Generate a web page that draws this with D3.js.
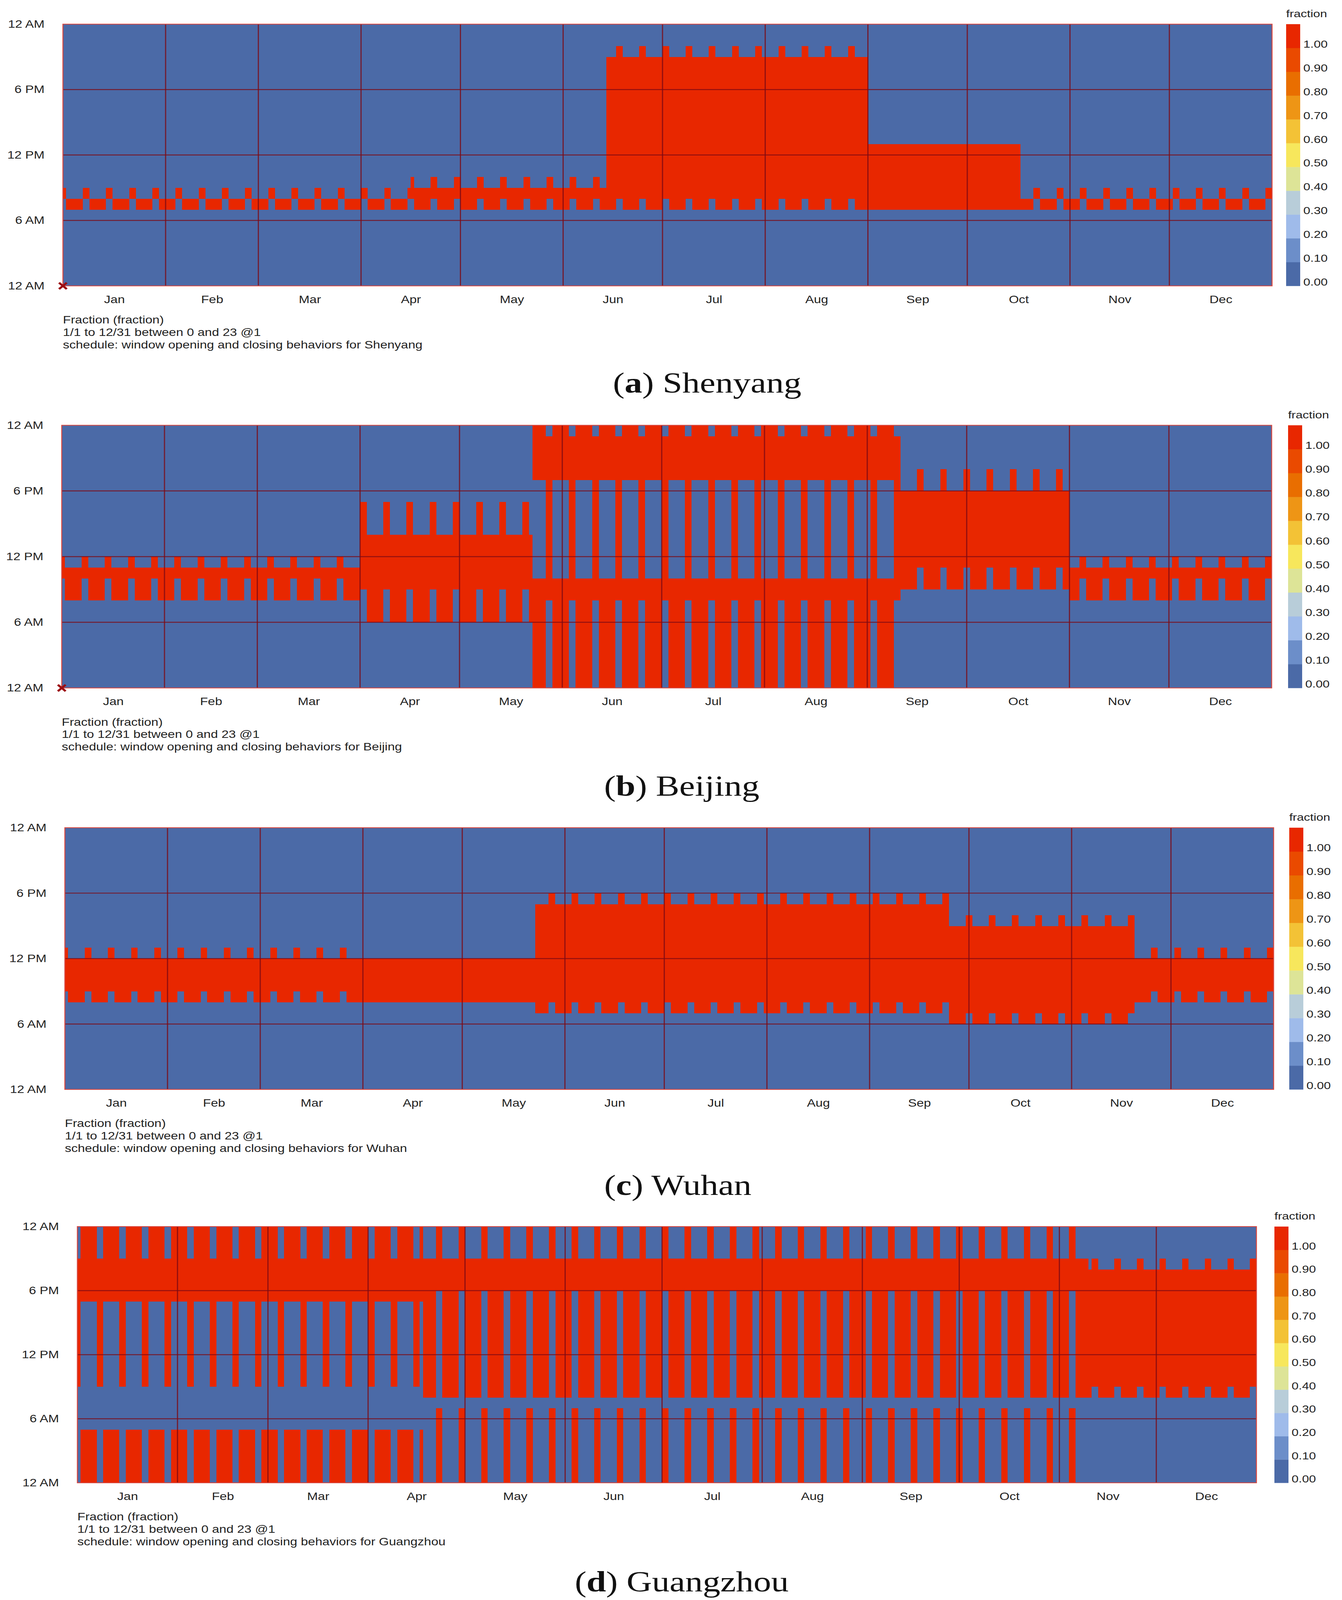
<!DOCTYPE html>
<html>
<head>
<meta charset="utf-8">
<script src="https://cdn.jsdelivr.net/npm/d3@7"></script>
<style>
  html, body { margin: 0; padding: 0; background: #fff; overflow: hidden; }
  #chart { width: 100vw; height: 100vh; }
  svg { display: block; }
  text { font-family: "Liberation Sans", Arial, sans-serif; fill: #222; }
  .caption { font-family: "Liberation Serif", "Times New Roman", serif; fill: #111; }
</style>
</head>
<body>
<div id="chart"></div>
<script>
// Window schedules.
// Each period: [first day, last day, weekday open hours, weekend open hours]
// hour ranges are inclusive [from, to] with 0 = 12 AM
const shenyangPeriods = [
  ["01-01", "04-15", [[7, 7]], [[8, 8]]],
  ["04-16", "06-13", [[7, 8]], [[8, 9]]],
  ["06-14", "08-31", [[7, 20]], [[8, 21]]],
  ["09-01", "10-16", [[7, 12]], [[7, 12]]],
  ["10-17", "12-31", [[7, 7]], [[8, 8]]]
];
const beijingPeriods = [
  ["01-01", "03-31", [[8, 10]], [[10, 11]]],
  ["04-01", "05-22", [[6, 13]], [[9, 16]]],
  ["05-23", "09-10", [[0, 9], [19, 23]], [[8, 22]]],
  ["09-11", "10-31", [[9, 17]], [[11, 19]]],
  ["11-01", "12-31", [[8, 10]], [[10, 11]]]
];
const wuhanPeriods = [
  ["01-01", "03-26", [[8, 11]], [[9, 12]]],
  ["03-27", "05-22", [[8, 11]], [[8, 11]]],
  ["05-23", "09-24", [[7, 16]], [[8, 17]]],
  ["09-25", "11-19", [[6, 14]], [[7, 15]]],
  ["11-20", "12-31", [[8, 11]], [[9, 12]]]
];
const guangzhouPeriods = [
  ["01-01", "04-17", [[0, 4], [17, 23]], [[9, 20]]],
  ["04-18", "11-09", [[8, 20]], [[0, 6], [18, 23]]],
  ["11-10", "12-31", [[8, 19]], [[9, 20]]]
];

const cityNames = ["Shenyang", "Beijing", "Wuhan", "Guangzhou"];
const panelLetters = ["a", "b", "c", "d"];
const monthLabels = ["Jan", "Feb", "Mar", "Apr", "May", "Jun", "Jul", "Aug", "Sep", "Oct", "Nov", "Dec"];
const hourTicks = [0, 6, 12, 18, 24];
const hourTickLabels = ["12 AM", "6 AM", "12 PM", "6 PM", "12 AM"];
const legendTicks = ["0.00", "0.10", "0.20", "0.30", "0.40", "0.50", "0.60", "0.70", "0.80", "0.90", "1.00"];
const legendColors = ["#4b6aa7", "#6c8ec9", "#9fbbea", "#b8cdd9", "#dde497", "#f7e75c",
                      "#f3c236", "#ee9515", "#e96e00", "#ea4a00", "#e82700"];
const footLines = ["Fraction (fraction)", "1/1 to 12/31 between 0 and 23 @1",
                   "schedule: window opening and closing behaviors for "];

// layout in the 3435 x 4970 design space: plot box left, top, right, bottom
const plotBoxes = [
  [161, 75, 3256, 888],
  [158, 1321, 3255, 2137],
  [166, 2571, 3260, 3384],
  [198, 3810, 3216, 4606]
];
const legendGaps = [36, 42, 40, 46];
const captionX = [1810, 1745, 1735, 1745];
const captionY = [1219, 2472, 3712, 4943];
const showStartMarker = [true, true, false, false];

const DESIGN_W = 3435;
const DESIGN_H = 4970;
const YEAR = 2017; // Jan 1 falls on a Sunday, as in the picture
const parseDay = d3.timeParse("%Y-%m-%d");
const blue = legendColors[0];

const color = d3.scaleThreshold()
  .domain(d3.range(1, 11).map(i => i / 10 - 0.05))
  .range(legendColors);

// Expand a period table to one cell per day and hour
function buildCells(periods) {
  const table = periods.map(p => ({
    from: parseDay(`${YEAR}-${p[0]}`),
    to: parseDay(`${YEAR}-${p[1]}`),
    weekday: p[2],
    weekend: p[3]
  }));
  const days = d3.timeDay.range(new Date(YEAR, 0, 1), new Date(YEAR + 1, 0, 1));
  const cells = [];
  days.forEach(day => {
    const p = table.find(t => day >= t.from && day <= t.to);
    const wd = day.getDay();
    const ranges = (wd === 0 || wd === 6) ? p.weekend : p.weekday;
    for (let h = 0; h < 24; h++) {
      const open = ranges.some(r => h >= r[0] && h <= r[1]);
      cells.push({ day: day, hour: h, value: open ? 1 : 0 });
    }
  });
  return cells;
}

// the window can be shorter than the design, so the drawing is stretched to fit it
const winW = window.innerWidth || DESIGN_W;
const winH = window.innerHeight || DESIGN_H;
console.log(`window ${winW}x${winH}`);

const svg = d3.select("#chart")
  .append("svg")
  .attr("width", winW)
  .attr("height", winH)
  .attr("viewBox", [0, 0, DESIGN_W, DESIGN_H])
  .attr("preserveAspectRatio", "none");

svg.append("rect").attr("width", DESIGN_W).attr("height", DESIGN_H).attr("fill", "#fff");

const allPeriods = [shenyangPeriods, beijingPeriods, wuhanPeriods, guangzhouPeriods];

allPeriods.forEach((periods, i) => {
  const [x0, y0, x1, y1] = plotBoxes[i];
  const g = svg.append("g");

  const x = d3.scaleTime()
    .domain([new Date(YEAR, 0, 1), new Date(YEAR + 1, 0, 1)])
    .range([x0, x1]);
  const y = d3.scaleLinear().domain([0, 24]).range([y1, y0]);

  const cells = buildCells(periods);

  // heat map cells
  g.append("rect")
    .attr("x", x0).attr("y", y0)
    .attr("width", x1 - x0).attr("height", y1 - y0)
    .attr("fill", blue);

  g.append("g")
    .attr("shape-rendering", "crispEdges")
    .selectAll("rect")
    .data(cells)
    .join("rect")
    .attr("x", d => x(d.day))
    .attr("y", d => y(d.hour + 1))
    .attr("width", d => x(d3.timeDay.offset(d.day, 1)) - x(d.day) + 0.5)
    .attr("height", d => y(d.hour) - y(d.hour + 1) + 0.5)
    .attr("fill", d => color(d.value));

  // grid lines
  const grid = g.append("g")
    .attr("stroke", "#7d0a14")
    .attr("stroke-opacity", 0.8)
    .attr("stroke-width", 3);
  grid.selectAll("line.v")
    .data(d3.timeMonth.range(new Date(YEAR, 1, 1), new Date(YEAR + 1, 0, 1)))
    .join("line")
    .attr("class", "v")
    .attr("x1", d => x(d)).attr("x2", d => x(d))
    .attr("y1", y0).attr("y2", y1);
  grid.selectAll("line.h")
    .data(hourTicks.slice(1, -1))
    .join("line")
    .attr("class", "h")
    .attr("x1", x0).attr("x2", x1)
    .attr("y1", d => y(d)).attr("y2", d => y(d));

  // plot frame
  g.append("rect")
    .attr("x", x0).attr("y", y0)
    .attr("width", x1 - x0).attr("height", y1 - y0)
    .attr("fill", "none")
    .attr("stroke", "#d9473f")
    .attr("stroke-width", 2.5);

  if (showStartMarker[i]) {
    g.append("path")
      .attr("d", d3.symbol(d3.symbolX, 260)())
      .attr("transform", `translate(${x0},${y1})`)
      .attr("stroke", "#9c0d12")
      .attr("stroke-width", 6)
      .attr("fill", "none");
  }

  // axes
  const yAxis = d3.axisLeft(y)
    .tickValues(hourTicks)
    .tickFormat((d, k) => hourTickLabels[k])
    .tickSize(0)
    .tickPadding(47);
  g.append("g")
    .attr("transform", `translate(${x0},0)`)
    .call(yAxis)
    .call(a => a.select(".domain").remove())
    .selectAll("text")
    .attr("font-size", 33)
    .attr("font-family", "Liberation Sans, Arial, sans-serif")
    .attr("fill", "#222");

  const monthMids = d3.timeMonth.range(new Date(YEAR, 0, 1), new Date(YEAR + 1, 0, 1))
    .map(m => new Date((+m + +d3.timeMonth.offset(m, 1)) / 2));
  const xAxis = d3.axisBottom(x)
    .tickValues(monthMids)
    .tickFormat((d, k) => monthLabels[k])
    .tickSize(0)
    .tickPadding(30);
  g.append("g")
    .attr("transform", `translate(0,${y1})`)
    .call(xAxis)
    .call(a => a.select(".domain").remove())
    .selectAll("text")
    .attr("font-size", 33)
    .attr("font-family", "Liberation Sans, Arial, sans-serif")
    .attr("fill", "#222");

  // foot notes
  g.selectAll("text.foot")
    .data(footLines)
    .join("text")
    .attr("class", "foot")
    .attr("x", x0)
    .attr("y", (d, k) => y1 + 117 + k * 38.5)
    .attr("font-size", 33)
    .text((d, k) => k === 2 ? d + cityNames[i] : d);

  // colour legend
  const lx = x1 + legendGaps[i];
  const band = d3.scaleBand()
    .domain(d3.range(legendColors.length).reverse())
    .range([y0, y1]);
  const leg = g.append("g");
  leg.selectAll("rect")
    .data(legendColors)
    .join("rect")
    .attr("x", lx)
    .attr("y", (d, k) => band(k))
    .attr("width", 36)
    .attr("height", band.bandwidth() + 0.5)
    .attr("fill", d => d);
  leg.selectAll("text.tick")
    .data(legendTicks)
    .join("text")
    .attr("class", "tick")
    .attr("x", lx + 44)
    .attr("y", (d, k) => band(k) + band.bandwidth() - 1)
    .attr("font-size", 32)
    .text(d => d);
  leg.append("text")
    .attr("x", lx)
    .attr("y", y0 - 22)
    .attr("font-size", 32)
    .text("fraction");

  // sub figure caption
  const cap = svg.append("text")
    .attr("class", "caption")
    .attr("x", captionX[i])
    .attr("y", captionY[i])
    .attr("text-anchor", "middle")
    .attr("font-size", 90);
  cap.append("tspan").text("(");
  cap.append("tspan").attr("font-weight", "bold").text(panelLetters[i]);
  cap.append("tspan").text(") " + cityNames[i]);
});
</script>
</body>
</html>
